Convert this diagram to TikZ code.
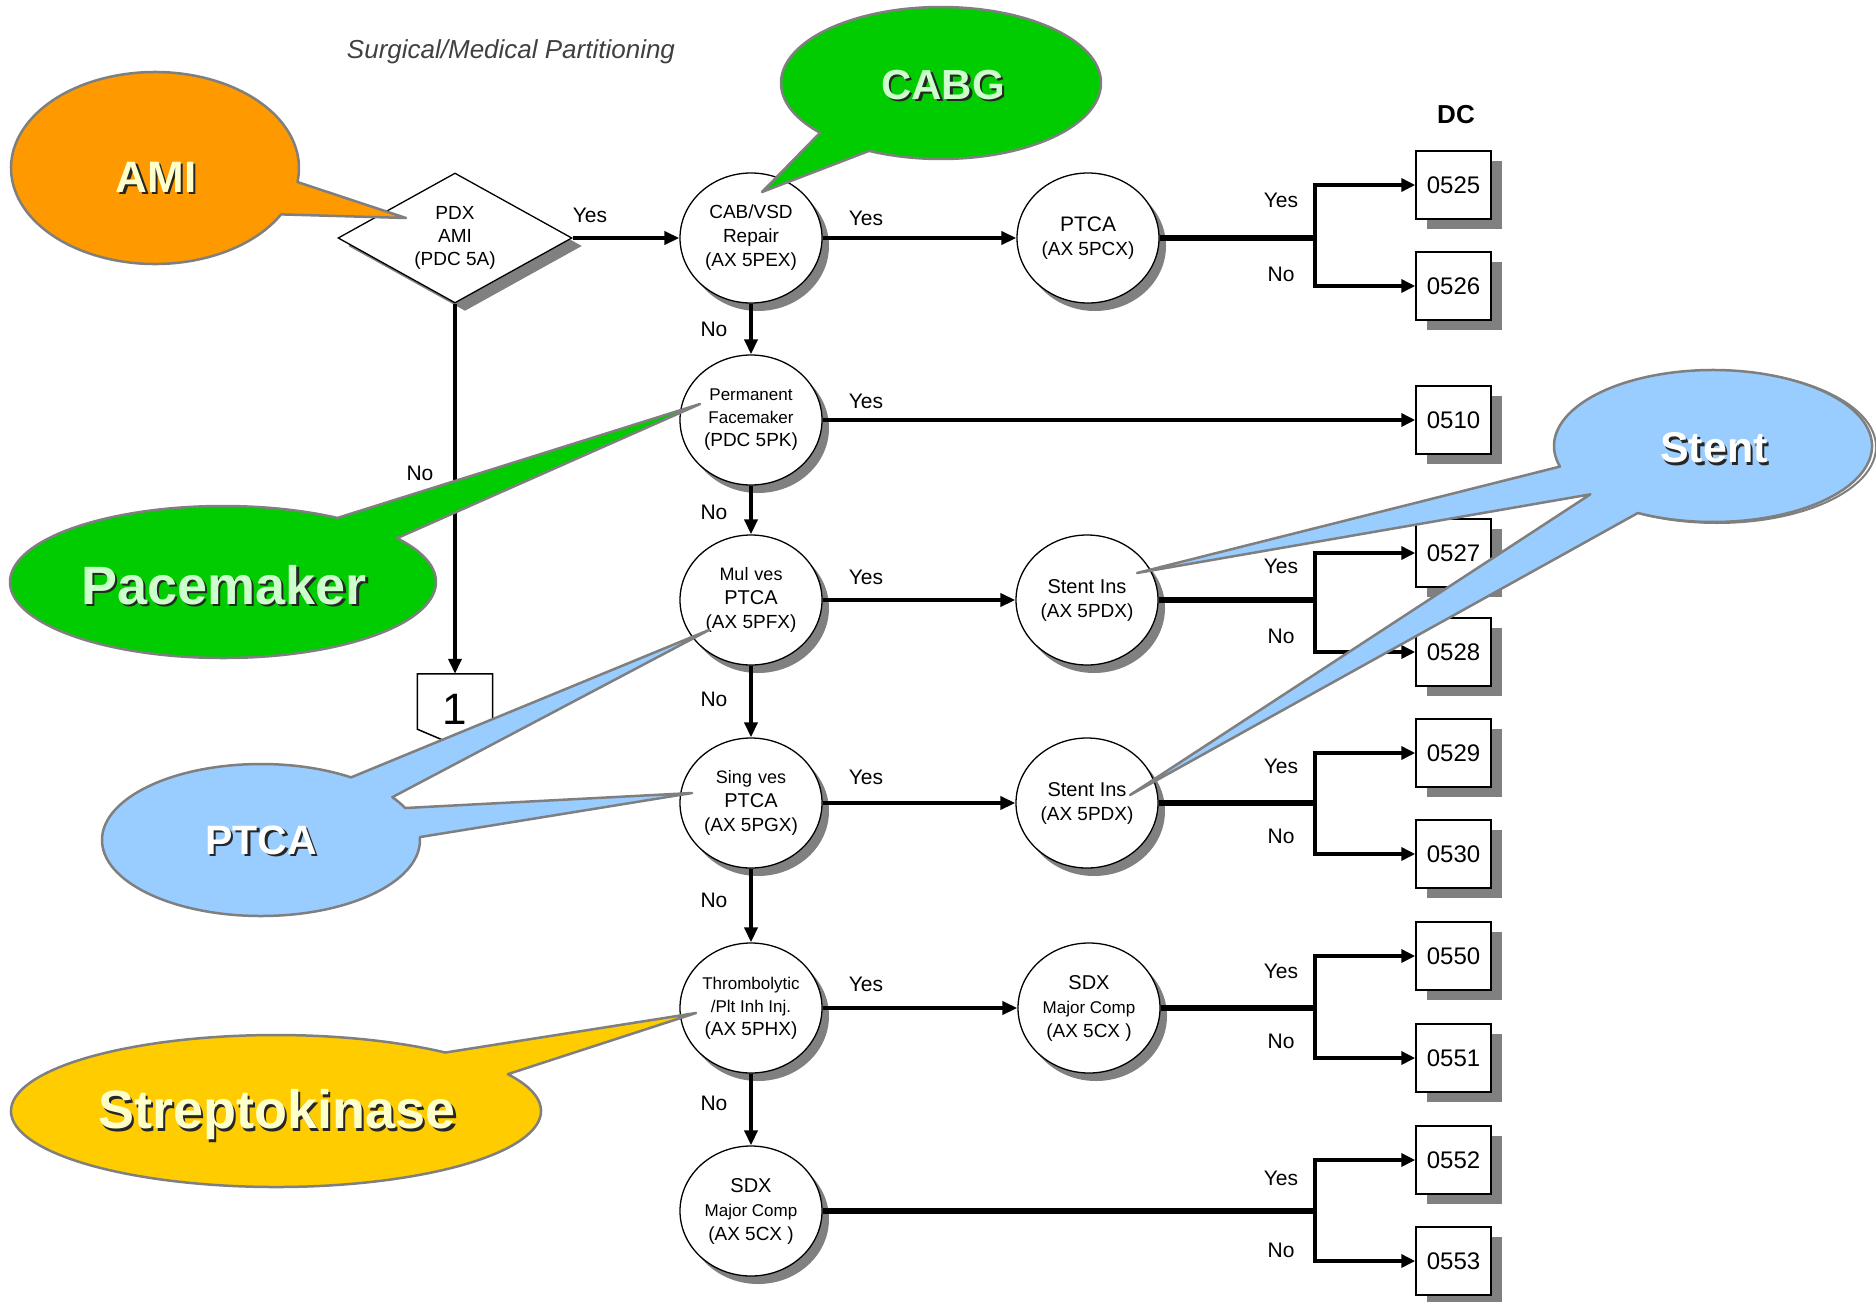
\documentclass[tikz,border=0pt]{standalone}
\usepackage{fontspec}
\setmainfont{Liberation Sans}
\usepackage{graphicx}
\usetikzlibrary{shapes.geometric,arrows.meta,shadows}
\newcommand\myfs[2]{\fontsize{#1}{#2}\selectfont}
\newcommand\btext[5]{%
  \node[font={\bfseries\myfs{#3}{#3}}, text=black!85, xshift=2.5pt, yshift=-2.5pt] (#1s) at (#2) {#5};
  \node[font={\bfseries\myfs{#3}{#3}}, text=#4] (#1) at (#2) {#5};}
\definecolor{shgray}{HTML}{808080}
\definecolor{bgray}{HTML}{7F7F7F}
\definecolor{amiorg}{HTML}{FF9900}
\definecolor{cgreen}{HTML}{00CC00}
\definecolor{lblue}{HTML}{99CCFF}
\definecolor{syellow}{HTML}{FFCC00}
\definecolor{paley}{HTML}{FFFFCC}
\definecolor{paleg}{HTML}{CCFFCC}
\begin{document}
\begin{tikzpicture}[x=1pt,y=-1pt,
  proc/.style={ellipse, draw, line width=1.3pt, fill=white, minimum width=142pt, minimum height=130pt,
    inner sep=0pt, align=center, font=\myfs{19}{24},
    drop shadow={shadow xshift=7pt, shadow yshift=-8pt, fill=shgray, opacity=1}},
  dec/.style={diamond, shape aspect=2, draw, line width=1.3pt, fill=white, minimum width=234pt, minimum height=130pt,
    inner sep=0pt, align=center, font=\myfs{19}{23},
    drop shadow={shadow xshift=10pt, shadow yshift=-8pt, fill=shgray, opacity=1}},
  dcbox/.style={draw, line width=1.5pt, fill=white, minimum width=75pt, minimum height=68pt, inner sep=0pt,
    font=\myfs{24}{28},
    drop shadow={shadow xshift=11pt, shadow yshift=-10pt, fill=shgray, opacity=1}},
  lbl/.style={font=\myfs{21}{24}, inner sep=0pt},
  arr/.style={line width=3.6pt, -{Triangle[length=15pt,width=13pt]}},
  thk/.style={line width=6pt},
  br/.style={line width=4.5pt, -{Triangle[length=14pt,width=13pt]}},
  bubble/.style={draw=bgray, line width=2.5pt, line join=round}
]
\useasboundingbox (0,0) rectangle (1876,1301);

% ---------- titles ----------
\node[font={\itshape\myfs{26}{30}}, text=black!75] (title) at (511,52) {Surgical/Medical Partitioning};
\node[font={\bfseries\myfs{26}{30}}] (dc) at (1456,115) {DC};

% ---------- decision nodes ----------
\node[dec] (pdx) at (455,238) {PDX\\AMI\\(PDC 5A)};
\node[proc] (cab) at (751,238) {CAB/VSD\\Repair\\(AX 5PEX)};
\node[proc, font=\myfs{17}{23}] (perm) at (751,420) {Permanent\\Facemaker\\{\myfs{19}{23}(PDC 5PK)}};
\node[proc] (mul) at (751,600) {{\myfs{18}{24}Mul\hspace{6pt}ves}\\{\myfs{20}{24}PTCA}\\(AX 5PFX)};
\node[proc] (sing) at (751,803) {{\myfs{18}{24}Sing\hspace{6pt}ves}\\{\myfs{20}{24}PTCA}\\(AX 5PGX)};
\node[proc, font=\myfs{17}{23}] (thr) at (751,1008) {Thrombolytic\\/Plt Inh Inj.\\{\myfs{19}{23}(AX 5PHX)}};
\node[proc] (sdxa) at (751,1211) {{\myfs{20}{24}SDX}\\{\myfs{17}{24}Major Comp}\\(AX 5CX )};

\node[proc] (ptca) at (1088,238) {{\myfs{21}{26}PTCA}\\(AX 5PCX)};
\node[proc] (st1) at (1087,600) {{\myfs{20}{25}Stent Ins}\\(AX 5PDX)};
\node[proc] (st2) at (1087,803) {{\myfs{20}{25}Stent Ins}\\(AX 5PDX)};
\node[proc] (sdxb) at (1089,1008) {{\myfs{20}{24}SDX}\\{\myfs{17}{24}Major Comp}\\(AX 5CX )};

% ---------- DC boxes ----------
\node[dcbox] (b0525) at (1453.5,185) {0525};
\node[dcbox] (b0526) at (1453.5,286) {0526};
\node[dcbox] (b0510) at (1453.5,420) {0510};
\node[dcbox] (b0527) at (1453.5,553) {0527};
\node[dcbox] (b0528) at (1453.5,652) {0528};
\node[dcbox] (b0529) at (1453.5,753) {0529};
\node[dcbox] (b0530) at (1453.5,854) {0530};
\node[dcbox] (b0550) at (1453.5,956) {0550};
\node[dcbox] (b0551) at (1453.5,1058) {0551};
\node[dcbox] (b0552) at (1453.5,1160) {0552};
\node[dcbox] (b0553) at (1453.5,1261) {0553};

% ---------- off-page connector ----------
\node[minimum width=75pt, minimum height=71pt, inner sep=0pt, font=\myfs{44}{48}] (c1) at (455,709.5) {1};
\draw[line width=1.5pt] (c1.north west) -- (c1.north east) -- ([yshift=16pt]c1.south east) -- (c1.south)
  -- ([yshift=16pt]c1.south west) -- cycle;

% ---------- junctions ----------
\coordinate (j1) at (1315,238);
\coordinate (j3) at (1315,600);
\coordinate (j4) at (1315,803);
\coordinate (j5) at (1315,1008);
\coordinate (j6) at (1315,1211);

% ---------- connectors ----------
\draw[arr] (pdx) -- (cab);
\draw[arr] (pdx) -- (c1);
\draw[arr] (cab) -- (perm);
\draw[arr] (perm) -- (mul);
\draw[arr] (mul) -- (sing);
\draw[arr] (sing) -- (thr);
\draw[arr] (thr) -- (sdxa);

\draw[arr] (cab) -- (ptca);
\draw[br] (perm) -- (b0510);
\draw[arr] (mul) -- (st1);
\draw[arr] (sing) -- (st2);
\draw[arr] (thr) -- (sdxb);

\draw[thk] (ptca) -- (j1);
\draw[thk] (st1) -- (j3);
\draw[thk] (st2) -- (j4);
\draw[thk] (sdxb) -- (j5);
\draw[thk] (sdxa) -- (j6);

\draw[br] (j1) |- (b0525.west);
\draw[br] (j1) |- (b0526.west);
\draw[br] (j3) |- (b0527.west);
\draw[br] (j3) |- (b0528.west);
\draw[br] (j4) |- (b0529.west);
\draw[br] (j4) |- (b0530.west);
\draw[br] (j5) |- (b0550.west);
\draw[br] (j5) |- (b0551.west);
\draw[br] (j6) |- (b0552.west);
\draw[br] (j6) |- (b0553.west);

% ---------- labels ----------
\node[lbl] (ly0) at (590,215) {Yes};
\node[lbl] (ln0) at (420,473) {No};
\node[lbl] (ly1) at (866,218) {Yes};
\node[lbl] (ly2) at (866,401) {Yes};
\node[lbl] (ly3) at (866,577) {Yes};
\node[lbl] (ly4) at (866,777) {Yes};
\node[lbl] (ly5) at (866,984) {Yes};
\node[lbl] (ln1) at (714,329) {No};
\node[lbl] (ln2) at (714,512) {No};
\node[lbl] (ln3) at (714,699) {No};
\node[lbl] (ln4) at (714,900) {No};
\node[lbl] (ln5) at (714,1103) {No};
\node[lbl] (jy1) at (1281,200) {Yes};
\node[lbl] (jn1) at (1281,274) {No};
\node[lbl] (jy3) at (1281,566) {Yes};
\node[lbl] (jn3) at (1281,636) {No};
\node[lbl] (jy4) at (1281,766) {Yes};
\node[lbl] (jn4) at (1281,836) {No};
\node[lbl] (jy5) at (1281,971) {Yes};
\node[lbl] (jn5) at (1281,1041) {No};
\node[lbl] (jy6) at (1281,1178) {Yes};
\node[lbl] (jn6) at (1281,1250) {No};

% ---------- callout bubbles ----------
% AMI
\filldraw[bubble, fill=amiorg] ([shift={(155,168)}]28.9:144 and 96)
  arc[start angle=28.9, end angle=368.4, x radius=144, y radius=96] -- (406,218) -- cycle;
\btext{tami}{156,177}{44}{paley}{AMI}
% CABG
\filldraw[bubble, fill=cgreen] ([shift={(941,83)}]139.1:160 and 76)
  arc[start angle=139.1, end angle=476.7, x radius=160, y radius=76] -- (762,192) -- cycle;
\btext{tcabg}{943,85}{42}{paleg}{CABG}
% Pacemaker
\filldraw[bubble, fill=cgreen] ([shift={(223,582)}]-35.2:213 and 76)
  arc[start angle=-35.2, end angle=302.5, x radius=213, y radius=76] -- (700,404) -- cycle;
\btext{tpace}{224,585}{54}{paleg}{Pacemaker}
% PTCA
\filldraw[bubble, fill=lblue] ([shift={(261,840)}]-2.2:159 and 76)
  arc[start angle=-2.2, end angle=304.5, x radius=159, y radius=76] -- (709,630)
  -- ([shift={(261,840)}]-34.3:159 and 76)
  arc[start angle=-34.3, end angle=-24.9, x radius=159, y radius=76] -- (692,793) -- cycle;
\btext{tptca}{261,840}{41}{white}{PTCA}
% Stent
\draw[bgray, line width=2pt] (1717,447) ellipse[x radius=159, y radius=76];
\filldraw[bubble, fill=lblue] ([shift={(1713,446)}]164.3:159 and 76)
  arc[start angle=164.3, end angle=478.2, x radius=159, y radius=76] -- (1130,795)
  -- ([shift={(1713,446)}]140.5:159 and 76) -- (1137,573) -- cycle;
\btext{tstent}{1714,448}{43}{white}{Stent}
% Streptokinase
\filldraw[bubble, fill=syellow] ([shift={(276,1111)}]-29.0:265 and 76)
  arc[start angle=-29.0, end angle=309.7, x radius=265, y radius=76] -- (696,1013) -- cycle;
\btext{tstrep}{277,1115}{54}{paley}{Streptokinase}
\end{tikzpicture}
\end{document}
